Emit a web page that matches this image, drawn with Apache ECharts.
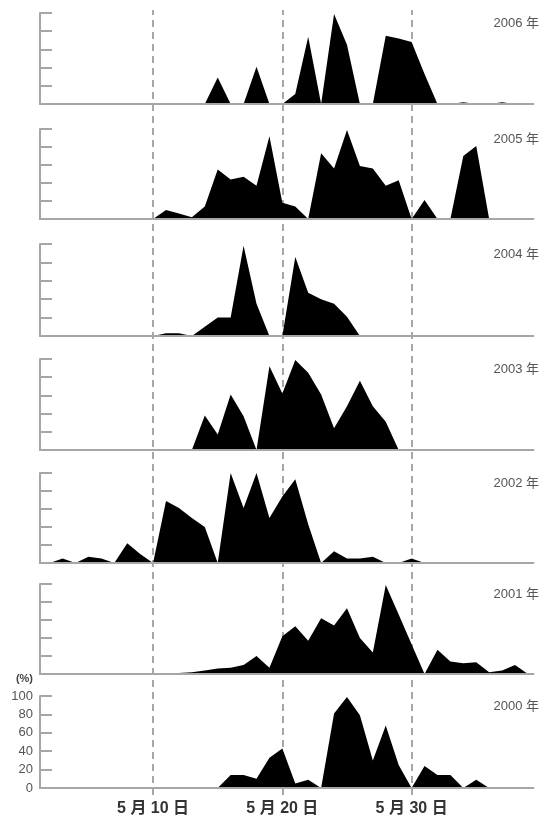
<!DOCTYPE html>
<html>
<head>
<meta charset="utf-8">
<script src="https://cdn.jsdelivr.net/npm/echarts@6/dist/echarts.min.js"></script>
<style>
html,body{margin:0;padding:0;background:#fff;}
#c{width:542px;height:818px;}
</style>
</head>
<body>
<div id="c"></div>
<script>
// Day of month (May 1 = 1 ... May 31 = 31, June 1 = 32 ...)
const days = [1,2,3,4,5,6,7,8,9,10,11,12,13,14,15,16,17,18,19,20,21,22,23,24,25,26,27,28,29,30,31,32,33,34,35,36,37,38,39];
const years = ['2006', '2005', '2004', '2003', '2002', '2001', '2000'];
const v2006 = [0,0,0,0,0,0,0,0,0,0,0,0,0,0,29,0,0,41,0,0,11,74,0,99,65,0,0,75,72,68,33,0,0,2,0,0,2,0,0];
const v2005 = [0,0,0,0,0,0,0,0,0,0,10,6,2,14,55,44,47,37,92,18,14,0,73,56,99,59,56,37,43,0,21,0,0,70,81,0,0,0,0];
const v2004 = [0,0,0,0,0,0,0,0,0,0,3,3,0,10,20,20,98,35,0,0,86,47,40,35,21,0,0,0,0,0,0,0,0,0,0,0,0,0,0];
const v2003 = [0,0,0,0,0,0,0,0,0,0,0,0,0,38,17,61,37,0,92,62,99,85,61,24,48,76,48,31,0,0,0,0,0,0,0,0,0,0,0];
const v2002 = [0,0,5,0,7,5,0,22,10,0,69,61,50,40,0,100,61,100,50,74,93,43,0,13,5,5,7,0,0,5,0,0,0,0,0,0,0,0,0];
const v2001 = [0,0,0,0,0,0,0,0,0,0,0.5,1,2,4,6,7,10,20,7,42,53,37,62,54,73,40,24,99,66,33,0,27,14,12,13,2,4,10,0];
const v2000 = [0,0,0,0,0,0,0,0,0,0,0,0,0,0,0,14,14,10,33,43,5,9,0,81,99,79,30,68,25,0,24,14,14,0,9,0,0,0,0];
const values = [v2006, v2005, v2004, v2003, v2002, v2001, v2000];
const refDays = [10, 20, 30];
const yTicks = [0, 20, 40, 60, 80, 100];

const panelTop = [13, 129, 244, 359, 473, 584, 696];
const panelBottom = [104, 219, 336, 450, 563, 674, 788];
const X_MIN = 1.25, X_MAX = 39.43;
const AXIS_GRAY = '#a6a6a6';
const FONT = "'Liberation Sans', 'Noto Sans CJK JP', sans-serif";

const grids = [], xAxes = [], yAxes = [], series = [], titles = [];
years.forEach((yr, i) => {
  const last = i === years.length - 1;
  grids.push({left: 40, right: 8.5, top: panelTop[i], height: panelBottom[i] - panelTop[i]});
  xAxes.push({
    type: 'value', gridIndex: i, min: X_MIN, max: X_MAX, z: 5,
    splitLine: {show: false},
    axisLine: {show: true, lineStyle: {color: AXIS_GRAY, width: 2}},
    axisTick: {show: false},
    axisLabel: last ? {
      show: true, customValues: refDays, margin: 13,
      fontFamily: FONT, fontSize: 16, fontWeight: 'bold', color: '#333',
      formatter: v => '5 月 ' + v + ' 日'
    } : {show: false}
  });
  yAxes.push({
    type: 'value', gridIndex: i, min: yTicks[0], max: yTicks[yTicks.length - 1], interval: 20, z: 5,
    splitLine: {show: false},
    axisLine: {show: true, lineStyle: {color: AXIS_GRAY, width: 2}},
    axisTick: {show: true, inside: true, length: 12, lineStyle: {color: AXIS_GRAY, width: 2}},
    axisLabel: last ? {show: true, margin: 7, fontFamily: FONT, fontSize: 13, color: '#555'} : {show: false},
    name: last ? '(%)' : '',
    nameLocation: 'end', nameGap: 12,
    nameTextStyle: {fontFamily: FONT, fontSize: 11, fontWeight: 'bold', color: '#444', align: 'right', padding: [0, 7, 0, 0]}
  });
  series.push({
    type: 'line', xAxisIndex: i, yAxisIndex: i, z: 2,
    data: days.map((d, k) => [d, values[i][k]]),
    showSymbol: false, symbol: 'none',
    lineStyle: {width: 0, color: '#000'},
    areaStyle: {color: '#000', opacity: 1},
    silent: true
  });
  titles.push({
    text: yr + ' 年', right: 3, top: panelTop[i] + 4, padding: 0,
    textStyle: {fontFamily: FONT, fontSize: 13, fontWeight: 'normal', color: '#555'}
  });
});

// Overlay grid for the full-height dashed reference lines
const oi = years.length;
grids.push({left: 40, right: 8.5, top: 10, bottom: 23});
xAxes.push({type: 'value', gridIndex: oi, min: X_MIN, max: X_MAX, show: false});
yAxes.push({type: 'value', gridIndex: oi, min: 0, max: 1, show: false});
series.push({
  type: 'line', xAxisIndex: oi, yAxisIndex: oi, z: 1, data: [],
  markLine: {
    z: 1,
    silent: true, symbol: ['none', 'none'], label: {show: false},
    lineStyle: {type: [7, 5], color: '#8a8a8a', width: 1.5},
    emphasis: {disabled: true},
    data: refDays.map(d => ({xAxis: d}))
  }
});

const chart = echarts.init(document.getElementById('c'), null, {renderer: 'canvas'});
chart.setOption({
  animation: false,
  backgroundColor: '#fff',
  title: titles,
  grid: grids,
  xAxis: xAxes,
  yAxis: yAxes,
  series: series
});
</script>
</body>
</html>
